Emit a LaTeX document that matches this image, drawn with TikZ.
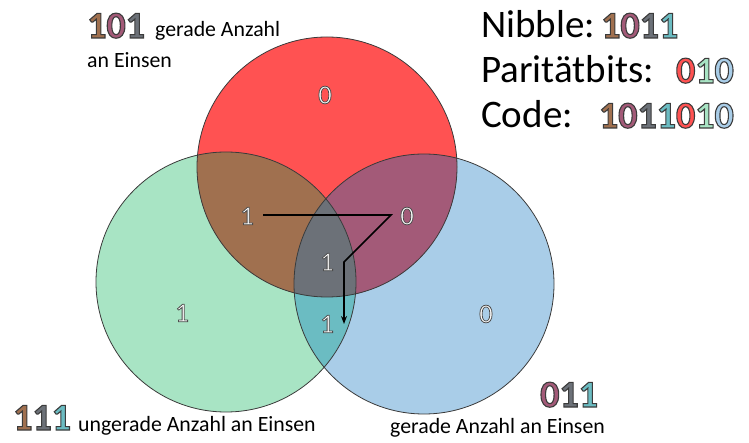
\documentclass[tikz,border=0pt]{standalone}
\usepackage{fontspec}
\setmainfont{Carlito}
\usetikzlibrary{arrows.meta}
\definecolor{cR}{HTML}{FF5252}
\definecolor{cG}{HTML}{A8E4C4}
\definecolor{cB}{HTML}{A9CDE8}
\definecolor{cRG}{HTML}{A0704F}
\definecolor{cRB}{HTML}{A35A78}
\definecolor{cGB}{HTML}{6BBCC2}
\definecolor{cRGB}{HTML}{6C7178}
\definecolor{cOut}{HTML}{3A3A3A}
\newcommand{\odig}[2]{{\color{#1}\special{pdf:literal direct 2 Tr 1.1 w 0.23 0.23 0.23 RG}#2\special{pdf:literal direct 0 Tr}}}
\newcommand{\wdig}[1]{{\color{white}\special{pdf:literal direct 2 Tr 0.8 w 0.3 0.3 0.3 RG}#1\special{pdf:literal direct 0 Tr}}}
\tikzset{
  rim/.style={draw=cOut, line width=0.8pt},
  bigtxt/.style={inner sep=0pt, anchor=base west, font=\fontsize{39}{44}\selectfont},
  bigdig/.style={inner sep=0pt, font=\fontsize{38}{44}\selectfont\bfseries},
  smalltxt/.style={inner sep=0pt, anchor=base west, font=\fontsize{21.8}{26}\selectfont},
  cdig/.style={inner sep=0pt, font=\fontsize{27}{30}\selectfont},
  route/.style={line width=1.6pt, black},
}
\begin{document}
\begin{tikzpicture}[x=1pt,y=-1pt]
\useasboundingbox (0,0) rectangle (749,443);
\coordinate (R) at (327,167);
\coordinate (G) at (226,282);
\coordinate (B) at (424,284);
\def\rr{130}
% base fills
\fill[cG] (G) circle[radius=\rr];
\fill[cB] (B) circle[radius=\rr];
\fill[cR] (R) circle[radius=\rr];
\begin{scope}
  \clip (R) circle[radius=\rr];
  \fill[cRG] (G) circle[radius=\rr];
  \fill[cRB] (B) circle[radius=\rr];
\end{scope}
\begin{scope}
  \clip (G) circle[radius=\rr];
  \fill[cGB] (B) circle[radius=\rr];
  \clip (R) circle[radius=\rr];
  \fill[cRGB] (B) circle[radius=\rr];
\end{scope}
\draw[rim] (G) circle[radius=\rr];
\draw[rim] (B) circle[radius=\rr];
\draw[rim] (R) circle[radius=\rr];

% path arrow
\coordinate (a0) at (263,215);
\coordinate (a1) at (391,215);
\coordinate (a2) at (344,262);
\coordinate (a3) at (344,324);
\draw[route, -{Stealth[length=8pt,width=6pt]}] (a0) -- (a1) -- (a2) -- (a3);

% digits in regions
\node[cdig] (p1) at (325,95) {\wdig{0}};
\node[cdig] (p2) at (182,313) {\wdig{1}};
\node[cdig] (p3) at (486,314) {\wdig{0}};
\node[cdig] (d1) at (247,216) {\wdig{1}};
\node[cdig] (d2) at (407,216) {\wdig{0}};
\node[cdig] (d3) at (327,262) {\wdig{1}};
\node[cdig] (d4) at (327,324) {\wdig{1}};

% top-left label
\node[bigdig, anchor=base west] (t1) at (87,38) {\odig{cRG}{1}\odig{cRB}{0}\odig{cRGB}{1}};
\node[smalltxt] (t2) at (155,37) {gerade Anzahl};
\node[smalltxt] (t3) at (87,68) {an Einsen};

% bottom-left label
\node[bigdig, anchor=base west] (b1) at (13,430) {\odig{cRG}{1}\odig{cRGB}{1}\odig{cGB}{1}};
\node[smalltxt] (b2) at (78,431) {ungerade Anzahl an Einsen};

% bottom-right label
\node[bigdig, anchor=base west] (c1) at (540,407) {\odig{cRB}{0}\odig{cRGB}{1}\odig{cGB}{1}};
\node[smalltxt] (c2) at (390,433) {gerade Anzahl an Einsen};

% top-right block
\node[bigtxt] (n1) at (481,38) {Nibble:};
\node[bigdig, anchor=base west] (n2) at (601,38) {\odig{cRG}{1}\odig{cRB}{0}\odig{cRGB}{1}\odig{cGB}{1}};
\node[bigtxt] (q1) at (481,83) {Paritätbits:};
\node[bigdig, anchor=base east] (q2) at (734,83) {\odig{cR}{0}\odig{cG}{1}\odig{cB}{0}};
\node[bigtxt] (k1) at (481,128) {Code:};
\node[bigdig, anchor=base east] (k2) at (734,128) {\odig{cRG}{1}\odig{cRB}{0}\odig{cRGB}{1}\odig{cGB}{1}\odig{cR}{0}\odig{cG}{1}\odig{cB}{0}};
\end{tikzpicture}
\end{document}
